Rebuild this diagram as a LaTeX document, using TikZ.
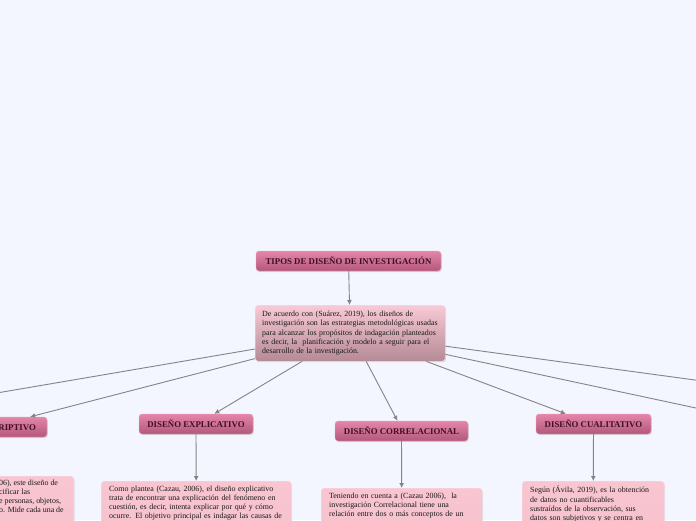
\documentclass[tikz,border=0pt]{standalone}
\usepackage{fontspec}
\setmainfont{Liberation Serif}
\usetikzlibrary{calc,shadows,arrows.meta}
\definecolor{bg}{HTML}{F3F6FE}
\definecolor{headtop}{HTML}{E585A9}
\definecolor{headbot}{HTML}{B2587B}
\definecolor{headtxt}{HTML}{3E1022}
\definecolor{maintop}{HTML}{F8CAD5}
\definecolor{mainbot}{HTML}{B48A96}
\definecolor{desctop}{HTML}{F8C5D1}
\definecolor{descbot}{HTML}{F6C2CE}
\definecolor{link}{HTML}{848484}
\begin{document}
\begin{tikzpicture}[x=1pt,y=-1pt,
  head/.style={rounded corners=3pt, top color=headtop, bottom color=headbot,
    draw=headtop!70!white, line width=0.4pt, minimum height=20pt, inner sep=0pt,
    text=headtxt, font=\bfseries\fontsize{8.8}{10}\selectfont,
    drop shadow={shadow xshift=0.8pt, shadow yshift=-1pt, opacity=0.25}},
  mainbox/.style={rounded corners=3pt, top color=maintop, bottom color=mainbot,
    draw=maintop!60!white, line width=0.4pt, anchor=north west, inner xsep=7pt, inner ysep=4pt,
    text width=176pt, minimum width=190pt, minimum height=56pt, align=left, text=black!90,
    font=\fontsize{7.9}{9.3}\selectfont,
    drop shadow={shadow xshift=0.8pt, shadow yshift=-1pt, opacity=0.25}},
  descbox/.style={rounded corners=3pt, top color=desctop, bottom color=descbot,
    draw=desctop!60!white, line width=0.4pt, inner xsep=8pt, inner ysep=5pt,
    align=left, text=black!90,
    font=\fontsize{7.9}{9.1}\selectfont,
    drop shadow={shadow xshift=0.8pt, shadow yshift=-1pt, opacity=0.2}},
  conn/.style={draw=link, line width=0.9pt, -{Latex[length=5pt,width=5pt]}}
]
\useasboundingbox (0,0) rectangle (696,520);
\fill[bg] (0,0) rectangle (696,520);
\clip (0,0) rectangle (696,520);

% title
\node[head, minimum width=185pt] (title) at (348.5,261) {TIPOS DE DISEÑO DE INVESTIGACIÓN};
% central
\node[mainbox] (c) at (255,305) {De acuerdo con (Suárez, 2019), los diseños de\\
investigación son las estrategias metodológicas usadas\\
para alcanzar los propósitos de indagación planteados\\
es decir, la\ \ planificación y modelo a seguir para el\\
desarrollo de la investigación.};

% headings
\node[head, minimum width=119pt] (de) at (-12.5,427) {DISEÑO DESCRIPTIVO};
\node[head, minimum width=114pt] (ex) at (196,424) {DISEÑO EXPLICATIVO};
\node[head, minimum width=133pt] (co) at (401.5,431) {DISEÑO CORRELACIONAL};
\node[head, minimum width=115pt] (cu) at (593.5,424) {DISEÑO CUALITATIVO};

% off-canvas ends
\coordinate (offl) at (-150,418);
\coordinate (offr1) at (850,401);
\coordinate (offr2) at (850,441);

% description boxes
\node[descbox, anchor=north east, minimum width=190pt, minimum height=60pt] (ded) at (74,476) {};
\node[anchor=north west, inner sep=0pt, align=left, text=black!90,
  font=\fontsize{7.9}{9.1}\selectfont] (dedt) at (-1,480) {06), este diseño de\\
cificar las\\
e personas, objetos,\\
o. Mide cada una de};

\node[descbox, anchor=north west, text width=174pt] (exd) at (101,481) {Como plantea (Cazau, 2006), el diseño explicativo\\
trata de encontrar una explicación del fenómeno en\\
cuestión, es decir, intenta explicar por qué y cómo\\
ocurre. El objetivo principal es indagar las causas de};

\node[descbox, anchor=north west, text width=145pt] (cod) at (321,488) {Teniendo en cuenta a (Cazau 2006),\ \ la\\
investigación Correlacional tiene una\\
relación entre dos o más conceptos de un};

\node[descbox, anchor=north west, text width=126pt] (cud) at (522,481) {\makebox[117pt][s]{Según (Ávila, 2019), es la obtención}\\
\makebox[95pt][s]{de datos no cuantificables}\\
\makebox[117pt][s]{sustraídos de la observación, sus}\\
\makebox[117pt][s]{datos son subjetivos y se centra en}};

% connectors
\draw[conn] (title) -- (c);
\draw[conn] ($(c.north west)!0.78!(c.south west)$) -- (offl);
\draw[conn] ($(c.north west)!0.95!(c.south west)$) -- ($(de.north west)!0.857!(de.north east)$);
\draw[conn] ($(c.south west)!0.247!(c.south east)$) -- ($(ex.north west)!0.66!(ex.north east)$);
\draw[conn] ($(c.south west)!0.584!(c.south east)$) -- ($(co.north west)!0.47!(co.north east)$);
\draw[conn] ($(c.south west)!0.9!(c.south east)$) -- ($(cu.north west)!0.26!(cu.north east)$);
\draw[conn] ($(c.north east)!0.73!(c.south east)$) -- (offr1);
\draw[conn] ($(c.north east)!0.875!(c.south east)$) -- (offr2);
\draw[conn] (ex) -- (exd);
\draw[conn] (co) -- (cod);
\draw[conn] (cu) -- (cud);
\end{tikzpicture}
\end{document}
